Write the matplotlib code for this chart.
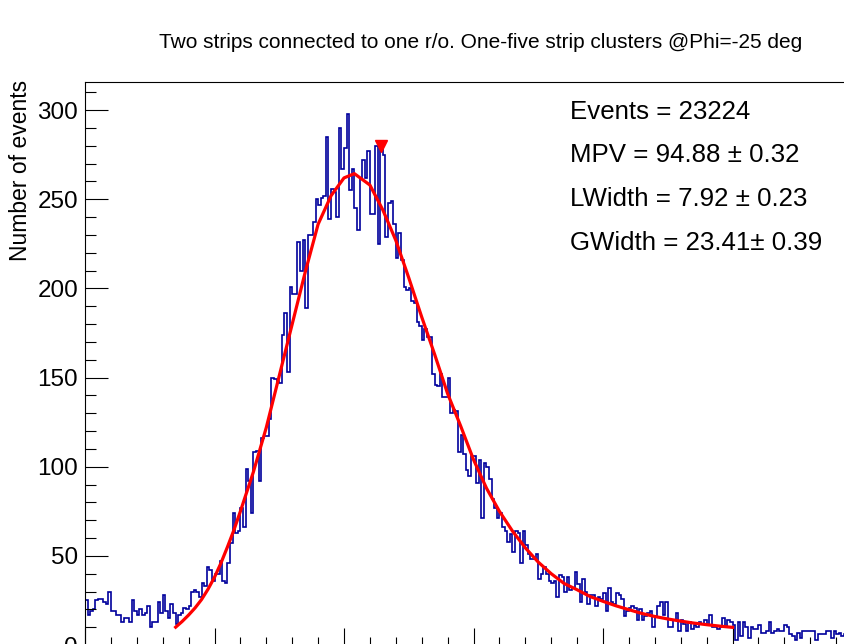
import matplotlib
matplotlib.use("Agg")
import matplotlib.pyplot as plt
from matplotlib.ticker import MultipleLocator

plt.rcParams['font.family'] = ['Liberation Sans', 'DejaVu Sans']

# histogram contents, bin width 1, starting at 0
counts = [25, 17, 19, 20, 25, 26, 26, 24, 23, 30, 19, 19, 17, 17, 13, 15, 15, 13, 25, 19,
          17, 20, 17, 18, 22, 10, 13, 13, 24,
          18, 28, 19, 15, 23, 18, 12, 17, 18, 21, 20, 22, 30, 31, 30, 27, 35, 33, 44, 42,
          36, 40, 40, 47, 36, 35, 46, 57,
          74, 63, 64, 77, 66, 99, 92, 74, 108, 109, 92, 116, 117, 117, 127,
          150, 149, 148, 147, 174, 186, 153, 201, 197, 197, 226, 210, 227, 189, 230, 230,
          237, 250, 247, 251, 252, 285, 239, 256, 254, 240, 290, 267, 279, 298,
          255, 267, 245, 233, 262, 272, 262, 277, 242, 242, 280, 225, 278, 275, 229, 248,
          249, 236, 217, 231, 216, 201, 199, 200, 193, 192, 181, 179, 171, 177, 173, 173,
          152, 146, 145, 152, 139, 139, 150, 130, 132, 131, 108, 118, 107, 98, 95, 106,
          106, 91, 104, 71, 102, 100, 93, 82, 77, 71, 74, 66, 64, 58, 62, 52, 64, 63, 46, 64,
          56, 51, 48, 48, 51, 37, 40, 44, 40, 36, 35, 36, 27, 39, 38, 30, 38, 31, 32, 41,
          34, 24, 37, 30, 23, 28, 28, 22, 27, 26,
          29, 19, 32, 24, 23, 29, 28, 26, 16, 19, 21, 22, 21, 14, 20, 14, 16, 18, 19, 10,
          16, 22, 24, 17, 24, 10, 10, 14, 18, 8, 14, 12, 8, 13, 9, 11, 10, 13, 12, 14,
          11, 17, 10, 10, 9, 10, 15, 10, 14, 13, 11, 3, 13, 5, 13, 10, 4, 10, 9, 9,
          11, 7, 7, 8, 13, 7, 8, 9, 8, 8, 11, 10, 6, 5, 3, 7, 4, 8, 8, 8,
          8, 8, 3, 6, 6, 6, 8, 8, 4, 8, 6, 7, 5, 6]
edges = list(range(len(counts) + 1))

# Landau x Gauss fit curve
fit_x = [35, 37.5, 40, 42.5, 45, 47.5, 50, 52.5, 55, 57.5, 60, 65, 70, 75, 80, 85, 90, 95,
         100, 104, 110, 115, 120, 125, 130, 135, 140, 145, 150, 155, 160, 165, 170, 175,
         180, 185, 190, 195, 200, 205, 210, 215, 220, 225, 230, 235, 240, 245, 250]
fit_y = [10, 13.2, 16.8, 20.8, 25.5, 31.3, 38, 46, 55, 64.5, 75, 97, 122, 151, 180, 209,
         236, 252, 262, 264.4, 258, 244, 227, 206, 184, 163, 141, 123, 104, 88, 75, 64,
         54.5, 46.5, 40, 34.5, 31, 27.2, 24.5, 22, 19.8, 17.7, 16, 14.6, 13.4, 12.3, 11.4,
         10.6, 9.9]

peak_x, peak_y = 114.3, 280

title = "Two strips connected to one r/o. One-five strip clusters @Phi=-25 deg"
stats = ["Events = 23224", "MPV = 94.88 \u00b1 0.32", "LWidth = 7.92 \u00b1 0.23",
         "GWidth = 23.41\u00b1 0.39"]

fig = plt.figure(figsize=(8.45, 6.44), dpi=100)
W, H = 845, 644
ax = fig.add_axes([85 / W, (H - 645) / H, 777 / W, 563 / H])

ax.stairs(counts, edges, baseline=None, color='#00009c', lw=1.2)
ax.plot(fit_x, fit_y, color='red', lw=2.3)
ax.plot([peak_x], [peak_y], marker='v', color='red', ms=8, ls='none')

ax.set_xlim(0, 300)
ax.set_ylim(0, 315.8)
ax.xaxis.set_major_locator(MultipleLocator(50))
ax.xaxis.set_minor_locator(MultipleLocator(10))
ax.yaxis.set_major_locator(MultipleLocator(50))
ax.yaxis.set_minor_locator(MultipleLocator(10))
ax.tick_params(axis='both', which='both', direction='in', width=0.8, labelsize=17.5)
ax.tick_params(axis='x', which='major', length=12.2, labelbottom=False)
ax.tick_params(axis='x', which='minor', length=6.1)
ax.tick_params(axis='y', which='major', length=16.6, pad=5)
ax.tick_params(axis='y', which='minor', length=8.2)
for s in ax.spines.values():
    s.set_linewidth(0.8)

fig.text(481 / W, 1 - 42 / H, title, ha='center', va='center', fontsize=15)
fig.text(21 / W, 1 - 80 / H, "Number of events", rotation=90, ha='center', va='top',
         fontsize=16.5)

for i, s in enumerate(stats):
    fig.text(570 / W, 1 - (119 + 43.5 * i) / H, s, ha='left', va='baseline', fontsize=18.6)

fig.savefig("out.png", dpi=100)
